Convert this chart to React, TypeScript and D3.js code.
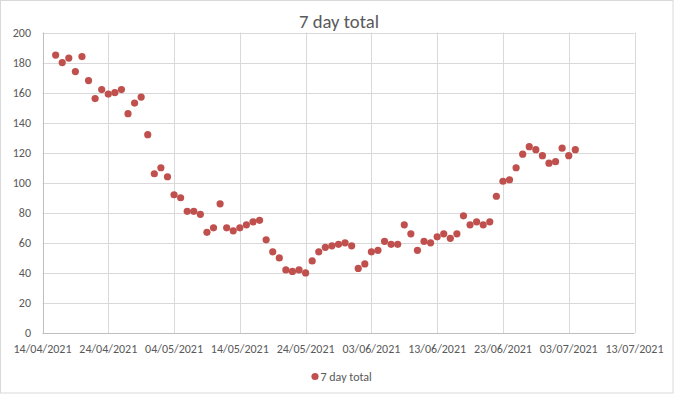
import React from 'react';
import * as d3 from 'd3';

// 7 day totals, one value per day starting 16/04/2021
const startDate = '2021-04-16';
const totals = [
  185, 180, 183, 174, 184, 168, 156, 162, 159, 160,
  162, 146, 153, 157, 132, 106, 110, 104, 92, 90,
  81, 81, 79, 67, 70, 86, 70, 68, 70, 72,
  74, 75, 62, 54, 50, 42, 41, 42, 40, 48,
  54, 57, 58, 59, 60, 58, 43, 46, 54, 55,
  61, 59, 59, 72, 66, 55, 61, 60, 64, 66,
  63, 66, 78, 72, 74, 72, 74, 91, 101, 102,
  110, 119, 124, 122, 118, 113, 114, 123, 118, 122,
];
const yTicks = [0, 20, 40, 60, 80, 100, 120, 140, 160, 180, 200];
const xTickDates = [
  '2021-04-14', '2021-04-24', '2021-05-04', '2021-05-14', '2021-05-24',
  '2021-06-03', '2021-06-13', '2021-06-23', '2021-07-03', '2021-07-13',
];
const seriesName = '7 day total';

const parse = d3.utcParse('%Y-%m-%d');
const fmt = d3.utcFormat('%d/%m/%Y');

const App = () => {
  const width = 678;
  const height = 395;
  const font = "Carlito, Calibri, 'Liberation Sans', sans-serif";
  const textColor = '#595959';
  const gridColor = '#d9d9d9';
  const markerColor = '#c0504d';

  const start = parse(startDate) as Date;
  const points = totals.map((v, i) => ({ date: d3.utcDay.offset(start, i), value: v }));
  const ticks = xTickDates.map((d) => parse(d) as Date);

  const x = d3.scaleUtc().domain([ticks[0], ticks[ticks.length - 1]]).range([42.5, 634.5]);
  const y = d3.scaleLinear().domain([0, 200]).range([333, 32.5]);

  return (
    <svg width={width} height={height} style={{ position: 'absolute', left: 0, top: 0 }} fontFamily={font}>
      <rect x={0} y={0} width={width} height={height} fill="#ffffff" />
      <rect x={0.5} y={0.5} width={672.5} height={392.5} fill="none" stroke={gridColor} />

      {/* titel */}
      <text x={339} y={28} textAnchor="middle" fontSize={18.7} fill={textColor}>
        {seriesName}
      </text>

      {/* gridlines */}
      {yTicks.map((t) => (
        <line key={'gy' + t} x1={x.range()[0]} x2={x.range()[1]} y1={Math.round(y(t)) + 0.5} y2={Math.round(y(t)) + 0.5} stroke={t === 0 ? '#bfbfbf' : gridColor} />
      ))}
      {ticks.map((d, i) => (
        <line key={'gx' + i} x1={Math.round(x(d)) + 0.5} x2={Math.round(x(d)) + 0.5} y1={y(200)} y2={y(0)} stroke={i === 0 ? '#bfbfbf' : gridColor} />
      ))}

      {/* axis labels */}
      {yTicks.map((t) => (
        <text key={'ly' + t} x={31} y={y(t) + 4} textAnchor="end" fontSize={12} fill={textColor}>
          {t}
        </text>
      ))}
      {ticks.map((d, i) => (
        <text key={'lx' + i} x={x(d)} y={353} textAnchor="middle" fontSize={12} fill={textColor}>
          {fmt(d)}
        </text>
      ))}

      {/* points */}
      {points.map((p, i) => (
        <circle key={i} cx={x(p.date)} cy={y(p.value)} r={3.6} fill={markerColor} />
      ))}

      {/* legend */}
      <circle cx={315} cy={376.5} r={3.6} fill={markerColor} />
      <text x={320.5} y={380.5} fontSize={12} fill={textColor}>
        {seriesName}
      </text>
    </svg>
  );
};

export default App;
